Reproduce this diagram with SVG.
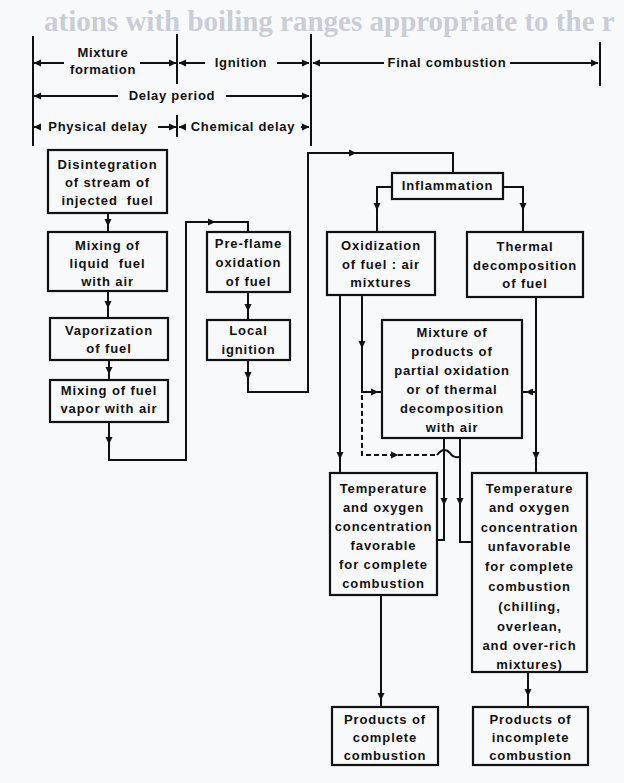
<svg xmlns="http://www.w3.org/2000/svg" xmlns:xlink="http://www.w3.org/1999/xlink" width="624" height="783" viewBox="0 0 624 783">
<style>
.bx{fill:none;stroke:#111;stroke-width:2.2}
.ln{fill:none;stroke:#111;stroke-width:2}
.ds{fill:none;stroke:#111;stroke-width:2;stroke-dasharray:5 3}
.t{font-family:"Liberation Sans",Arial,sans-serif;font-weight:bold;font-size:13px;fill:#111;text-anchor:middle;letter-spacing:0.9px}
.h{font-family:"Liberation Sans",Arial,sans-serif;font-weight:bold;font-size:13px;fill:#111;text-anchor:middle;letter-spacing:0.7px}
.bg{font-family:"Liberation Serif","Times New Roman",serif;font-weight:bold;font-size:29px;fill:#c9cdd6}
</style>
<defs>
<path id="ad" d="M-3.5,-4 L3.5,-4 L0,3.5 Z" fill="#111"/>
<path id="ar" d="M-4,-3.5 L-4,3.5 L3.5,0 Z" fill="#111"/>
<path id="al" d="M4,-3.5 L4,3.5 L-3.5,0 Z" fill="#111"/>
</defs>
<rect width="624" height="783" fill="#f8f9fb"/>
<text class="bg" x="44" y="31">ations with boiling ranges appropriate to the r</text>

<g id="header">
<path class="ln" d="M33,36 V146 M177,34 V84 M177,115 V137 M311,34 V146 M600,42 V86"/>
<path class="ln" d="M34,63 H64 M140,63 H176 M179,63 H205 M277,63 H309 M313,63 H384 M510,63 H598"/>
<path class="ln" d="M34,96 H118 M226,96 H309"/>
<path class="ln" d="M34,127 H38 M158,127 H176 M179,127 H184 M301,127 H309"/>
<use xlink:href="#al" x="37" y="63"/><use xlink:href="#ar" x="173" y="63"/>
<use xlink:href="#al" x="182" y="63"/><use xlink:href="#ar" x="306" y="63"/>
<use xlink:href="#al" x="316" y="63"/><use xlink:href="#ar" x="595" y="63"/>
<use xlink:href="#al" x="37" y="96"/><use xlink:href="#ar" x="306" y="96"/>
<use xlink:href="#al" x="37" y="127"/><use xlink:href="#ar" x="173" y="127"/>
<use xlink:href="#al" x="182" y="127"/><use xlink:href="#ar" x="306" y="127"/>
<text class="h" x="103" y="57">Mixture</text>
<text class="h" x="103" y="74">formation</text>
<text class="h" x="241" y="67">Ignition</text>
<text class="h" x="447" y="67">Final combustion</text>
<text class="h" x="172" y="100">Delay period</text>
<text class="h" x="98" y="131">Physical delay</text>
<text class="h" x="243" y="131">Chemical delay</text>
</g>

<g id="connectors">
<path class="ln" d="M108,213 V232 M108,291 V318 M109,360 V380"/>
<path class="ln" d="M109,422 V460 H186 V222 H248 V232"/>
<path class="ln" d="M248,292 V320"/>
<path class="ln" d="M248,360 V392 H308 V153 H453 V173"/>
<path class="ln" d="M392,187 H377 V232 M503,187 H523 V232"/>
<path class="ln" d="M340,295 V473 M362,295 V392 H382"/>
<path class="ln" d="M536,297 V473 M536,392 H522"/>
<path class="ln" d="M444,438 V540 H437 M460,438 V542 H472"/>
<path class="ds" d="M362,395 V455 H437"/>
<path class="ln" d="M437,455 Q444,446 450,453 Q453,458 459,457" stroke-width="1.5"/>
<path class="ln" d="M381,595 V707 M528,672 V707"/>
<use xlink:href="#ad" x="108" y="223"/>
<use xlink:href="#ad" x="108" y="305"/>
<use xlink:href="#ad" x="109" y="371"/>
<use xlink:href="#ad" x="109" y="441"/>
<use xlink:href="#ar" x="212" y="222"/>
<use xlink:href="#ad" x="248" y="308"/>
<use xlink:href="#ad" x="248" y="376"/>
<use xlink:href="#ar" x="353" y="153"/>
<use xlink:href="#ad" x="377" y="207"/>
<use xlink:href="#ad" x="523" y="207"/>
<use xlink:href="#ad" x="362" y="345"/>
<use xlink:href="#ar" x="375" y="392"/>
<use xlink:href="#al" x="529" y="392"/>
<use xlink:href="#ar" x="395" y="455"/>
<use xlink:href="#ad" x="340" y="456"/>
<use xlink:href="#ad" x="536" y="456"/>
<use xlink:href="#ad" x="444" y="502"/>
<use xlink:href="#ad" x="460" y="502"/>
<use xlink:href="#ad" x="381" y="697"/>
<use xlink:href="#ad" x="528" y="693"/>
</g>

<g id="n1"><rect class="bx" x="48" y="150" width="119" height="63"/>
<text class="t" x="107.5" y="169">Disintegration</text><text class="t" x="107.5" y="187">of stream of</text><text class="t" x="107.5" y="205" xml:space="preserve">injected  fuel</text></g>
<g id="n2"><rect class="bx" x="48" y="232" width="119" height="59"/>
<text class="t" x="107.5" y="250">Mixing of</text><text class="t" x="107.5" y="268" xml:space="preserve">liquid  fuel</text><text class="t" x="107.5" y="286">with air</text></g>
<g id="n3"><rect class="bx" x="50" y="318" width="118" height="42"/>
<text class="t" x="109" y="335">Vaporization</text><text class="t" x="109" y="353">of fuel</text></g>
<g id="n4"><rect class="bx" x="50" y="380" width="118" height="42"/>
<text class="t" x="109" y="395">Mixing of fuel</text><text class="t" x="109" y="413">vapor with air</text></g>
<g id="n5"><rect class="bx" x="207" y="232" width="83" height="60"/>
<text class="t" x="248.5" y="248">Pre-flame</text><text class="t" x="248.5" y="267">oxidation</text><text class="t" x="248.5" y="286">of fuel</text></g>
<g id="n6"><rect class="bx" x="207" y="320" width="83" height="40"/>
<text class="t" x="248.5" y="335">Local</text><text class="t" x="248.5" y="354">ignition</text></g>
<g id="n7"><rect class="bx" x="392" y="173" width="111" height="26"/>
<text class="t" x="447.5" y="190">Inflammation</text></g>
<g id="n8"><rect class="bx" x="327" y="232" width="108" height="63"/>
<text class="t" x="381" y="250">Oxidization</text><text class="t" x="381" y="269">of fuel : air</text><text class="t" x="381" y="287">mixtures</text></g>
<g id="n9"><rect class="bx" x="467" y="232" width="116" height="65"/>
<text class="t" x="525" y="251">Thermal</text><text class="t" x="525" y="270">decomposition</text><text class="t" x="525" y="288">of fuel</text></g>
<g id="n10"><rect class="bx" x="382" y="320" width="140" height="118"/>
<text class="t" x="452" y="337">Mixture of</text><text class="t" x="452" y="356">products of</text><text class="t" x="452" y="375">partial oxidation</text><text class="t" x="452" y="394">or of thermal</text><text class="t" x="452" y="413">decomposition</text><text class="t" x="452" y="432">with air</text></g>
<g id="n11"><rect class="bx" x="330" y="473" width="107" height="122"/>
<text class="t" x="383.5" y="493">Temperature</text><text class="t" x="383.5" y="512">and oxygen</text><text class="t" x="383.5" y="531">concentration</text><text class="t" x="383.5" y="550">favorable</text><text class="t" x="383.5" y="569">for complete</text><text class="t" x="383.5" y="588">combustion</text></g>
<g id="n12"><rect class="bx" x="472" y="473" width="115" height="199"/>
<text class="t" x="529.5" y="493">Temperature</text><text class="t" x="529.5" y="512">and oxygen</text><text class="t" x="529.5" y="532">concentration</text><text class="t" x="529.5" y="551">unfavorable</text><text class="t" x="529.5" y="571">for complete</text><text class="t" x="529.5" y="591">combustion</text><text class="t" x="529.5" y="611">(chilling,</text><text class="t" x="529.5" y="631">overlean,</text><text class="t" x="529.5" y="650">and over-rich</text><text class="t" x="529.5" y="669">mixtures)</text></g>
<g id="n13"><rect class="bx" x="332" y="707" width="106" height="58"/>
<text class="t" x="385" y="724">Products of</text><text class="t" x="385" y="742">complete</text><text class="t" x="385" y="760">combustion</text></g>
<g id="n14"><rect class="bx" x="473" y="707" width="115" height="58"/>
<text class="t" x="530.5" y="724">Products of</text><text class="t" x="530.5" y="742">incomplete</text><text class="t" x="530.5" y="760">combustion</text></g>
</svg>
